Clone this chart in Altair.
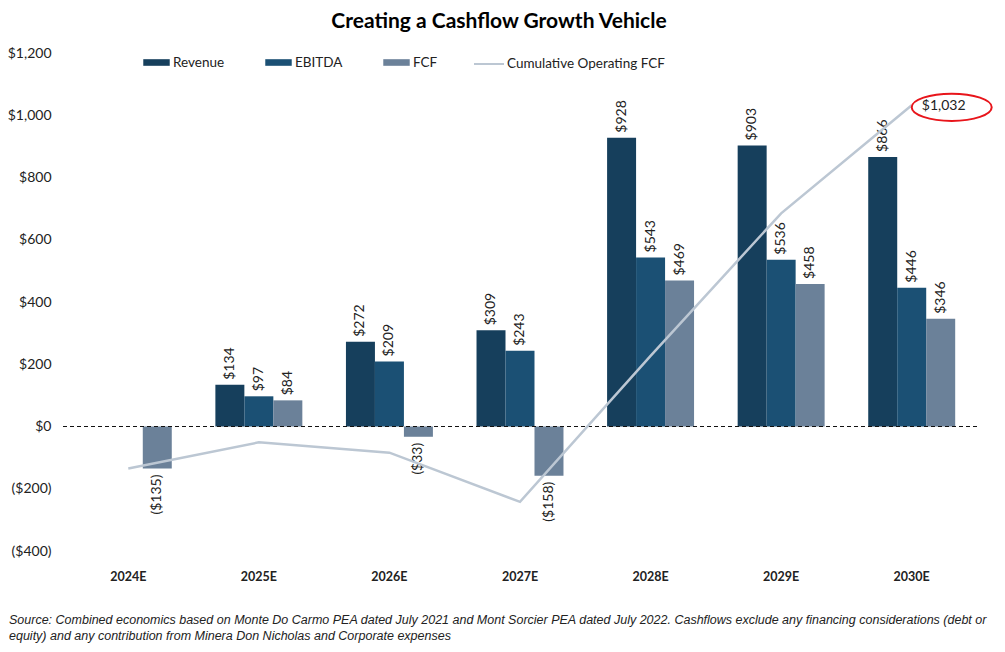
import altair as alt
import pandas as pd

years = ["2024E", "2025E", "2026E", "2027E", "2028E", "2029E", "2030E"]
revenue = [None, 134, 272, 309, 928, 903, 866]
ebitda = [None, 97, 209, 243, 543, 536, 446]
fcf = [-135, 84, -33, -158, 469, 458, 346]
cumulative = [-135, -51, -84, -242, 227, 685, 1032]
series_names = ["Revenue", "EBITDA", "FCF"]
series_colors = ["#163f5c", "#1b5074", "#6b8199"]
line_name = "Cumulative Operating FCF"
line_color = "#bcc7d3"
y_ticks = [-400, -200, 0, 200, 400, 600, 800, 1000, 1200]
title_text = "Creating a Cashflow Growth Vehicle"
footnote = [
    "Source: Combined economics based on Monte Do Carmo PEA dated July 2021 and Mont Sorcier PEA dated July 2022. Cashflows exclude any financing considerations (debt or",
    "equity) and any contribution from Minera Don Nicholas and Corporate expenses",
]

rows = []
for name, vals in zip(series_names, [revenue, ebitda, fcf]):
    for yr, v in zip(years, vals):
        if v is not None:
            lab = f"(${-v:,})" if v < 0 else f"${v:,}"
            rows.append({"year": yr, "series": name, "value": v, "label": lab})
bars_df = pd.DataFrame(rows)
line_df = pd.DataFrame({"year": years, "cum": cumulative, "series": [line_name] * len(years)})
line_df["label"] = [f"${v:,}" if v >= 0 else f"(${-v:,})" for v in cumulative]

FONT = "Lato"
W, H = 914, 498

x_enc = alt.X("year:N", sort=years, title=None,
              scale=alt.Scale(paddingInner=0.334, paddingOuter=0.167),
              axis=alt.Axis(labelFont=FONT, labelFontSize=12.5, labelFontWeight="bold",
                            labelColor="#222222", labelPadding=19, domain=False, ticks=False,
                            labelAngle=0))
y_scale = alt.Scale(domain=[-400, 1200], nice=False, zero=False)
y_axis = alt.Axis(values=y_ticks, grid=False, domain=False, ticks=False, labelPadding=12,
                  labelFont=FONT, labelFontSize=14, labelColor="#222222",
                  labelExpr="datum.value < 0 ? '($' + format(-datum.value, ',') + ')' : '$' + format(datum.value, ',')")
xoff = alt.XOffset("series:N", sort=series_names, scale=alt.Scale(domain=series_names, paddingInner=0))

base = alt.Chart(bars_df)

bars = base.mark_bar().encode(
    x=x_enc,
    xOffset=xoff,
    y=alt.Y("value:Q", scale=y_scale, axis=y_axis, title=None),
    color=alt.Color("series:N", scale=alt.Scale(domain=series_names, range=series_colors),
                    legend=alt.Legend(title=None, orient="none", direction="horizontal",
                                      legendX=80, legendY=-4, padding=0,
                                      symbolType="M-1,-0.25H1V0.25H-1Z", symbolSize=700,
                                      symbolStrokeWidth=0, symbolOpacity=1,
                                      labelFont=FONT, labelFontSize=13.5, labelColor="#222222",
                                      labelOffset=3, columnPadding=40)),
)

pos_labels = base.transform_filter("datum.value >= 0").mark_text(
    angle=270, align="left", baseline="middle", dx=5, font=FONT, fontSize=14, color="#222222"
).encode(x=x_enc, xOffset=xoff, y=alt.Y("value:Q", scale=y_scale), text="label:N")

neg_labels = base.transform_filter("datum.value < 0").mark_text(
    angle=270, align="right", baseline="middle", dx=-6, font=FONT, fontSize=14, color="#222222"
).encode(x=x_enc, xOffset=xoff, y=alt.Y("value:Q", scale=y_scale), text="label:N")

zero = alt.Chart(pd.DataFrame({"z": [0]})).mark_rule(
    color="#111111", strokeDash=[4, 3], strokeWidth=1
).encode(y=alt.Y("z:Q", scale=y_scale))

lbase = alt.Chart(line_df)
line = lbase.mark_line(strokeWidth=2.5).encode(
    x=x_enc,
    y=alt.Y("cum:Q", scale=y_scale),
    stroke=alt.Stroke("series:N", scale=alt.Scale(domain=[line_name], range=[line_color]),
                      legend=alt.Legend(title=None, orient="none", legendX=410, legendY=-5,
                                        padding=0, symbolType="stroke", symbolSize=900,
                                        symbolStrokeWidth=2, labelFont=FONT, labelFontSize=13.5,
                                        labelColor="#222222", labelOffset=2)),
)

end_df = lbase.transform_filter(alt.datum.year == years[-1])
end_text = end_df.mark_text(dx=32, dy=1, font=FONT, fontSize=14, color="#222222").encode(
    x=x_enc, y=alt.Y("cum:Q", scale=y_scale), text="label:N")
ellipse = end_df.mark_point(
    shape="M-1,0A1,0.34 0 1,1 1,0A1,0.34 0 1,1 -1,0Z", size=6400, filled=False,
    stroke="#e8151b", strokeWidth=2, opacity=1, xOffset=40, yOffset=2
).encode(x=x_enc, y=alt.Y("cum:Q", scale=y_scale))

foot = alt.Chart(pd.DataFrame({"t": [0]})).mark_text(
    text=footnote, align="left", baseline="top", font="Liberation Sans", fontStyle="italic",
    fontSize=12.5, lineHeight=16, color="#222222"
).encode(x=alt.value(-54), y=alt.value(561))

chart = alt.layer(bars, pos_labels, neg_labels, zero, line, end_text, ellipse, foot).properties(
    width=W, height=H,
    background="white",
    title=alt.TitleParams(title_text, font=FONT, fontSize=21, fontWeight="bold", color="#000000",
                          anchor="middle", dx=-21, offset=14),
    autosize=alt.AutoSizeParams(type="none"),
    padding={"left": 55, "top": 45, "right": 20, "bottom": 96},
).configure_view(stroke=None, strokeWidth=0)

chart.save("out.html", embed_options={"renderer": "svg", "actions": False})
